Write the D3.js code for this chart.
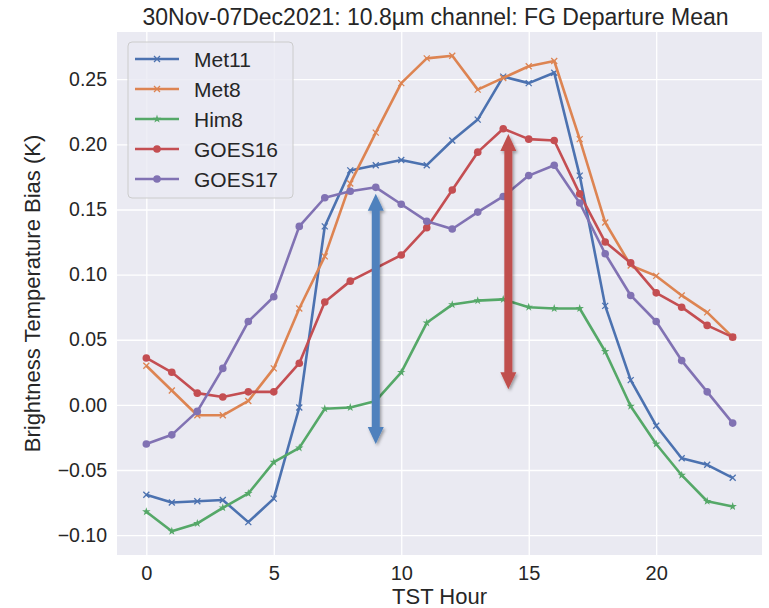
<!DOCTYPE html>
<html>
<head>
<meta charset="utf-8">
<script src="https://cdn.jsdelivr.net/npm/d3@7"></script>
<style>
  body { margin: 0; background: #fff; }
  text { font-family: "Liberation Sans", Arial, sans-serif; fill: #262626; }
</style>
</head>
<body>
<div class="container"></div>
<script>
// chart values
var hours = [0, 1, 2, 3, 4, 5, 6, 7, 8, 9, 10, 11, 12, 13, 14, 15, 16, 17, 18, 19, 20, 21, 22, 23];
var seriesNames = ["Met11", "Met8", "Him8", "GOES16", "GOES17"];
var met11 = [-0.069, -0.075, -0.074, -0.073, -0.090, -0.072, -0.002, 0.137, 0.180, 0.184, 0.188, 0.184, 0.203, 0.219, 0.252, 0.247, 0.255, 0.176, 0.076, 0.019, -0.016, -0.041, -0.046, -0.056];
var met8 = [0.030, 0.011, -0.008, -0.008, 0.003, 0.028, 0.074, 0.114, 0.170, 0.209, 0.247, 0.266, 0.268, 0.242, 0.251, 0.260, 0.264, 0.204, 0.140, 0.107, 0.099, 0.084, 0.071, 0.052];
var him8 = [-0.082, -0.097, -0.091, -0.079, -0.068, -0.044, -0.033, -0.003, -0.002, 0.003, 0.025, 0.063, 0.077, 0.080, 0.081, 0.075, 0.074, 0.074, 0.041, -0.001, -0.030, -0.054, -0.074, -0.078];
var goes16 = [0.036, 0.025, 0.009, 0.006, 0.010, 0.010, 0.032, 0.079, 0.095, 0.105, 0.115, 0.136, 0.165, 0.194, 0.212, 0.204, 0.203, 0.162, 0.125, 0.109, 0.086, 0.075, 0.061, 0.052];
var goes17 = [-0.030, -0.023, -0.005, 0.028, 0.064, 0.083, 0.137, 0.159, 0.164, 0.167, 0.154, 0.141, 0.135, 0.148, 0.160, 0.176, 0.184, 0.155, 0.116, 0.084, 0.064, 0.034, 0.010, -0.014];
var xTicks = [0, 5, 10, 15, 20];
var yTicks = [-0.10, -0.05, 0.00, 0.05, 0.10, 0.15, 0.20, 0.25];
// annotation arrows: hour, top and bottom value
var arrowHours = [9, 14.2];
var arrowTops = [0.162, 0.208];
var arrowBottoms = [-0.030, 0.012];

var colors = ["#4C72B0", "#DD8452", "#55A868", "#C44E52", "#8172B3"];
var markers = ["x", "x", "star", "circle", "circle"];
var arrowColors = ["#4F81BD", "#C0504D"];

var svgWidth = 769, svgHeight = 608;
var plot = { left: 117, right: 762, top: 32, bottom: 555 };

var svg = d3.select(".container").append("svg")
    .attr("width", svgWidth)
    .attr("height", svgHeight);

var defs = svg.append("defs");
var shadow = defs.append("filter").attr("id", "shadow")
    .attr("x", "-50%").attr("y", "-10%").attr("width", "200%").attr("height", "120%");
shadow.append("feDropShadow").attr("dx", 1.5).attr("dy", 2).attr("stdDeviation", 1.8)
    .attr("flood-color", "#000").attr("flood-opacity", 0.35);

var allValues = [].concat(met11, met8, him8, goes16, goes17);
var yMin = d3.min(allValues), yMax = d3.max(allValues);
var yPad = (yMax - yMin) * 0.05;

var xScale = d3.scaleLinear().domain([-1.15, 24.15]).range([plot.left, plot.right]);
var yScale = d3.scaleLinear().domain([yMin - yPad, yMax + yPad]).range([plot.bottom, plot.top]);

// background
svg.append("rect")
    .attr("x", plot.left).attr("y", plot.top)
    .attr("width", plot.right - plot.left).attr("height", plot.bottom - plot.top)
    .attr("fill", "#EAEAF2");

// grid via axes
var xGrid = d3.axisBottom(xScale).tickValues(xTicks).tickSize(-(plot.bottom - plot.top)).tickFormat("");
svg.append("g").attr("transform", `translate(0, ${plot.bottom})`).call(xGrid)
    .call(g => g.select(".domain").remove())
    .selectAll("line").attr("stroke", "#fff").attr("stroke-width", 1.3);

var yGrid = d3.axisLeft(yScale).tickValues(yTicks).tickSize(-(plot.right - plot.left)).tickFormat("");
svg.append("g").attr("transform", `translate(${plot.left}, 0)`).call(yGrid)
    .call(g => g.select(".domain").remove())
    .selectAll("line").attr("stroke", "#fff").attr("stroke-width", 1.3);

// tick labels
var bottomAxis = d3.axisBottom(xScale).tickValues(xTicks).tickSize(0).tickPadding(11);
svg.append("g").attr("transform", `translate(0, ${plot.bottom})`).call(bottomAxis)
    .call(g => g.select(".domain").remove())
    .selectAll("text").attr("font-size", "20px").attr("fill", "#262626")
    .attr("font-family", "Liberation Sans, Arial, sans-serif");

var leftAxis = d3.axisLeft(yScale).tickValues(yTicks).tickSize(0).tickPadding(10)
    .tickFormat(d => d3.format(".2f")(d).replace("-", "\u2212"));
svg.append("g").attr("transform", `translate(${plot.left}, 0)`).call(leftAxis)
    .call(g => g.select(".domain").remove())
    .selectAll("text").attr("font-size", "19.5px").attr("fill", "#262626")
    .attr("font-family", "Liberation Sans, Arial, sans-serif");

// series
var seriesData = [met11, met8, him8, goes16, goes17];
var line = d3.line().x((d, i) => xScale(hours[i])).y(d => yScale(d));

function drawMarker(g, type, color) {
    if (type === "x") {
        g.append("path").attr("d", "M-3,-3L3,3M-3,3L3,-3")
            .attr("stroke", color).attr("stroke-width", 1.3).attr("fill", "none");
    } else if (type === "star") {
        g.append("path").attr("d", d3.symbol(d3.symbolStar, 22)())
            .attr("fill", color);
    } else {
        g.append("circle").attr("r", 3.8).attr("fill", color);
    }
}

seriesData.forEach((vals, s) => {
    var g = svg.append("g");
    g.append("path").datum(vals)
        .attr("d", line)
        .attr("fill", "none")
        .attr("stroke", colors[s])
        .attr("stroke-width", 2.6)
        .attr("stroke-linejoin", "round");
    g.selectAll(".pt").data(vals).enter().append("g")
        .attr("transform", (d, i) => `translate(${xScale(hours[i])}, ${yScale(d)})`)
        .each(function () { drawMarker(d3.select(this), markers[s], colors[s]); });
});

// double-headed arrows
arrowHours.forEach((h, i) => {
    var x = xScale(h), y1 = yScale(arrowTops[i]), y2 = yScale(arrowBottoms[i]);
    var hw = 8, hh = 17, sw = 4;
    var p = `M${x},${y1} L${x + hw},${y1 + hh} L${x + sw},${y1 + hh} L${x + sw},${y2 - hh} L${x + hw},${y2 - hh}` +
        ` L${x},${y2} L${x - hw},${y2 - hh} L${x - sw},${y2 - hh} L${x - sw},${y1 + hh} L${x - hw},${y1 + hh} Z`;
    svg.append("path").attr("d", p).attr("fill", arrowColors[i]).attr("filter", "url(#shadow)");
});

// legend
var legend = svg.append("g");
legend.append("rect")
    .attr("x", 128).attr("y", 42).attr("width", 165).attr("height", 156)
    .attr("rx", 4).attr("fill", "#EAEAF2").attr("fill-opacity", 0.8)
    .attr("stroke", "#cccccc").attr("stroke-width", 1);
seriesNames.forEach((name, s) => {
    var y = 59 + s * 30;
    legend.append("line").attr("x1", 135).attr("x2", 179).attr("y1", y).attr("y2", y)
        .attr("stroke", colors[s]).attr("stroke-width", 2.6);
    drawMarker(legend.append("g").attr("transform", `translate(157, ${y})`), markers[s], colors[s]);
    legend.append("text").attr("x", 194).attr("y", y).attr("dy", "0.36em")
        .attr("font-size", "21px").text(name);
});

// titles
svg.append("text").attr("x", (plot.left + plot.right) / 2 - 4).attr("y", 25)
    .attr("text-anchor", "middle").attr("font-size", "23px")
    .text("30Nov-07Dec2021: 10.8\u00b5m channel: FG Departure Mean");

svg.append("text").attr("x", (plot.left + plot.right) / 2).attr("y", 604)
    .attr("text-anchor", "middle").attr("font-size", "22px")
    .text("TST Hour");

svg.append("text")
    .attr("transform", `translate(40, ${(plot.top + plot.bottom) / 2}) rotate(-90)`)
    .attr("text-anchor", "middle").attr("font-size", "22px")
    .text("Brightness Temperature Bias (K)");
</script>
</body>
</html>
